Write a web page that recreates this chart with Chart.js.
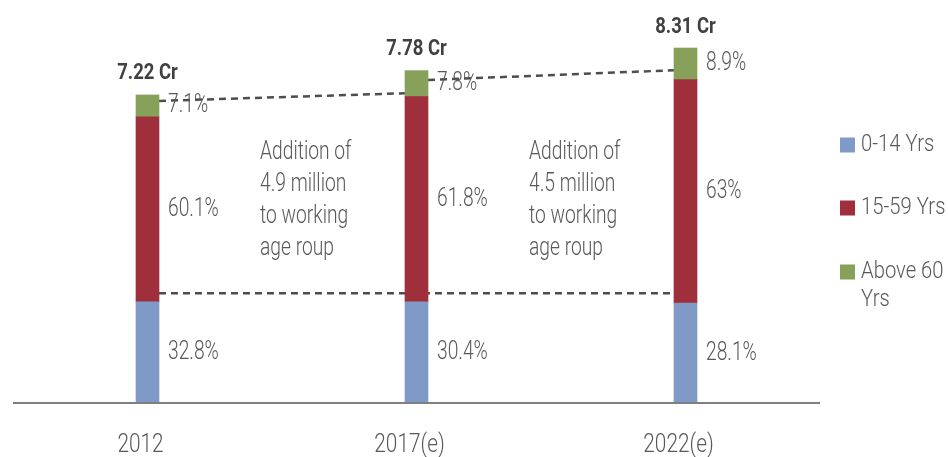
<!DOCTYPE html>
<html>
<head>
<meta charset="utf-8">
<script src="https://cdn.jsdelivr.net/npm/chart.js@4/dist/chart.umd.min.js"></script>
<style>
    html, body { margin: 0; padding: 0; background: #fff; }
    #wrap { width: 948px; height: 457px; position: relative; }
</style>
</head>
<body>
<div id="wrap"><canvas id="popChart"></canvas></div>
<script>
// categories and values (crore people)
const years = ["2012", "2017(e)", "2022(e)"];
const totals = ["7.22 Cr", "7.78 Cr", "8.31 Cr"];
const kids = [2.37, 2.37, 2.34];
const working = [4.34, 4.81, 5.24];
const seniors = [0.51, 0.61, 0.74];
const kidsPct = ["32.8%", "30.4%", "28.1%"];
const workingPct = ["60.1%", "61.8%", "63%"];
const seniorsPct = ["7.1%", "7.8%", "8.9%"];
const seriesNames = ["0-14 Yrs", "15-59 Yrs", "Above 60 Yrs"];
const seriesColors = ["#7f9ac7", "#9e2f3b", "#87a05a"];
// dashed guide lines: [fromIndex, toIndex, startValue, endValue]
const topGuides = [[0, 1, 7.08, 7.26], [1, 2, 7.57, 7.80]];
const workingLine = 2.57;
const notes = [
    ["Addition of", "4.9 million", "to working", "age roup"],
    ["Addition of", "4.5 million", "to working", "age roup"]
];

const FONT = "Roboto";

function narrowText(ctx, text, x, y, size, weight, color, align, squeeze) {
    ctx.save();
    ctx.font = weight + " " + size + "px " + FONT;
    ctx.fillStyle = color;
    ctx.textBaseline = "middle";
    ctx.textAlign = align;
    ctx.translate(x, y);
    ctx.scale(squeeze, 1);
    ctx.fillText(text, 0, 0);
    ctx.restore();
}

const guidePlugin = {
    id: "guides",
    beforeDatasetsDraw(chart) {
        const ctx = chart.ctx;
        const y = chart.scales.y;
        const bars = chart.getDatasetMeta(0).data;
        ctx.save();
        ctx.strokeStyle = "#4d4d4d";
        ctx.lineWidth = 2.5;
        ctx.setLineDash([7, 5]);
        topGuides.forEach(g => {
            const a = bars[g[0]], b = bars[g[1]];
            ctx.beginPath();
            ctx.moveTo(a.x + a.width / 2, y.getPixelForValue(g[2]));
            ctx.lineTo(b.x - b.width / 2, y.getPixelForValue(g[3]));
            ctx.stroke();
        });
        ctx.beginPath();
        ctx.moveTo(bars[0].x + bars[0].width / 2, y.getPixelForValue(workingLine));
        ctx.lineTo(bars[2].x - bars[2].width / 2, y.getPixelForValue(workingLine));
        ctx.stroke();
        ctx.restore();
    },
    afterDatasetsDraw(chart) {
        const ctx = chart.ctx;
        const area = chart.chartArea;
        const y = chart.scales.y;
        const base = y.getPixelForValue(0);

        // axis line
        ctx.save();
        ctx.strokeStyle = "#7f7f7f";
        ctx.lineWidth = 2;
        ctx.beginPath();
        ctx.moveTo(area.left, base);
        ctx.lineTo(area.right, base);
        ctx.stroke();
        ctx.restore();

        const pctLists = [kidsPct, workingPct, seniorsPct];
        pctLists.forEach((list, d) => {
            chart.getDatasetMeta(d).data.forEach((bar, i) => {
                const mid = (bar.y + bar.base) / 2;
                narrowText(ctx, list[i], bar.x + bar.width / 2 + 9, mid, 26, "300", "#595959", "left", 0.74);
            });
        });

        const top = chart.getDatasetMeta(2).data;
        top.forEach((bar, i) => {
            narrowText(ctx, totals[i], bar.x, bar.y - 21, 22, "bold", "#404040", "center", 0.84);
            narrowText(ctx, years[i], bar.x - 7, base + 42, 26, "300", "#595959", "center", 0.8);
        });

        // notes between bars
        const first = chart.getDatasetMeta(0).data;
        notes.forEach((lines, n) => {
            const x = first[n].x + first[n].width / 2 + 101;
            lines.forEach((line, k) => {
                narrowText(ctx, line, x, 152 + k * 32, 26, "300", "#595959", "left", 0.74);
            });
        });

        // legend
        const rows = [[seriesNames[0]], [seriesNames[1]], ["Above 60", "Yrs"]];
        const rowY = [145, 208, 272];
        rows.forEach((r, i) => {
            ctx.fillStyle = seriesColors[i];
            ctx.fillRect(840, rowY[i] - 7.5, 15, 15);
            r.forEach((t, k) => {
                narrowText(ctx, t, 861, rowY[i] + k * 28, 23, "300", "#595959", "left", 0.88);
            });
        });
    }
};

new Chart(document.getElementById("popChart"), {
    type: "bar",
    data: {
        labels: years,
        datasets: [
            { label: seriesNames[0], data: kids, backgroundColor: seriesColors[0], barThickness: 23 },
            { label: seriesNames[1], data: working, backgroundColor: seriesColors[1], barThickness: 23 },
            { label: seriesNames[2], data: seniors, backgroundColor: seriesColors[2], barThickness: 23 }
        ]
    },
    options: {
        responsive: true,
        maintainAspectRatio: false,
        animation: false,
        layout: { padding: { left: 13, right: 128, top: 19, bottom: 54 } },
        plugins: { legend: { display: false }, tooltip: { enabled: false } },
        scales: {
            x: { stacked: true, display: false },
            y: { stacked: true, display: false, min: 0, max: 9 }
        }
    },
    plugins: [guidePlugin]
});
</script>
</body>
</html>
